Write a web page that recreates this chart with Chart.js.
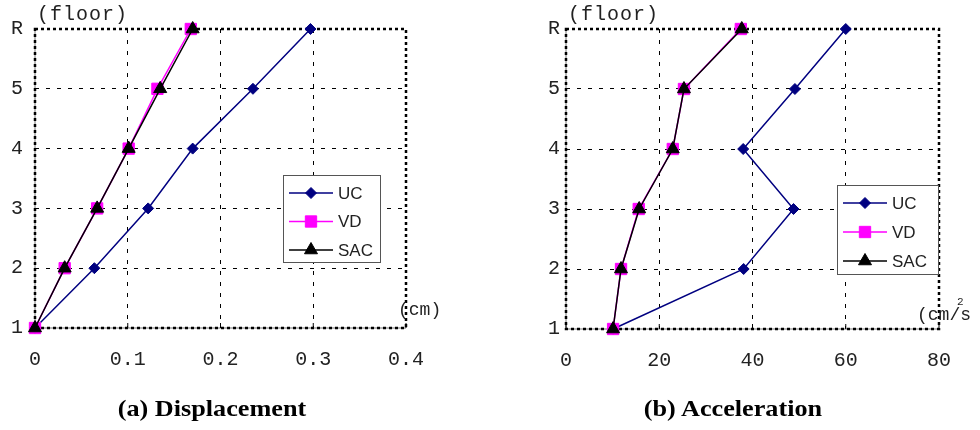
<!DOCTYPE html>
<html>
<head>
<meta charset="utf-8">
<script src="https://cdn.jsdelivr.net/npm/chart.js@4.4.0/dist/chart.umd.min.js"></script>
<style>
  html, body { margin: 0; padding: 0; background: #fff; }
  #wrap { position: relative; width: 980px; height: 430px; overflow: hidden; }
  .box { position: absolute; top: 0; width: 490px; height: 430px; }
  .cap { position: absolute; top: 396px; transform: translateX(-50%) scaleX(1.14); white-space: nowrap;
         font: bold 23px "Liberation Serif", "Times New Roman", serif; color: #000; line-height: normal; }
</style>
</head>
<body>
<div id="wrap">
  <div class="box" style="left:0"><canvas id="dispChart" width="490" height="430"></canvas></div>
  <div class="box" style="left:490px"><canvas id="accChart" width="490" height="430"></canvas></div>
  <div class="cap" style="left:212px">(a) Displacement</div>
  <div class="cap" style="left:733px">(b) Acceleration</div>
</div>
<script>
// floors (y) and series values (x)
const floors = [1, 2, 3, 4, 5, 6];
const floorLabels = ['1', '2', '3', '4', '5', 'R'];
const seriesNames = ['UC', 'VD', 'SAC'];

const dispUC  = [0, 0.064, 0.122, 0.170, 0.235, 0.297];
const dispVD  = [0, 0.032, 0.067, 0.101, 0.132, 0.168];
const dispSAC = [0, 0.032, 0.067, 0.101, 0.135, 0.170];
const dispTicks = [0, 0.1, 0.2, 0.3, 0.4];
const dispTickLabels = ['0', '0.1', '0.2', '0.3', '0.4'];

const accUC  = [10.1, 38.1, 48.8, 38.0, 49.1, 60.0];
const accVD  = [10.1, 11.8, 15.6, 22.9, 25.3, 37.5];
const accSAC = [10.1, 11.8, 15.7, 22.9, 25.3, 37.7];
const accTicks = [0, 20, 40, 60, 80];
const accTickLabels = ['0', '20', '40', '60', '80'];

// styles
const seriesColors = ['#000080', '#ff00ff', '#000000'];
const seriesMarkers = ['rectRot', 'rect', 'triangle'];
const markerSizes = [5.5, 8, 7.5];
const mono = '"Liberation Mono", "Courier New", monospace';

function makeSets(uc, vd, sac) {
  const vals = [uc, vd, sac];
  return seriesNames.map((name, i) => ({
    label: name,
    data: vals[i].map((v, k) => ({ x: v, y: floors[k] })),
    borderColor: seriesColors[i],
    backgroundColor: seriesColors[i],
    pointBackgroundColor: seriesColors[i],
    pointBorderColor: seriesColors[i],
    pointStyle: seriesMarkers[i],
    pointRadius: markerSizes[i],
    pointBorderWidth: 1,
    borderWidth: 1.5,
    tension: 0,
    clip: false,
    order: 2 - i
  }));
}

// dotted frame, inward ticks, legend box and unit texts
const framePlugin = {
  id: 'frame',
  beforeDatasetsDraw(chart, args, opts) {
    const { ctx, chartArea: a, scales } = chart;
    ctx.save();
    ctx.setLineDash([]);
    ctx.strokeStyle = '#777';
    ctx.lineWidth = 1;
    ctx.beginPath();
    ctx.moveTo(a.left, a.top);
    ctx.lineTo(a.left, a.bottom);
    ctx.lineTo(a.right, a.bottom);
    ctx.stroke();
    ctx.strokeStyle = '#000';
    ctx.beginPath();
    scales.x.ticks.forEach(t => {
      const px = scales.x.getPixelForValue(t.value);
      ctx.moveTo(px, a.bottom);
      ctx.lineTo(px, a.bottom - 5);
    });
    ctx.stroke();
    ctx.lineWidth = 2.5;
    ctx.setLineDash([3, 3]);
    ctx.strokeRect(a.left, a.top, a.right - a.left, a.bottom - a.top);
    ctx.restore();
  },
  afterDraw(chart, args, opts) {
    const { ctx, chartArea: a } = chart;
    ctx.save();
    // axis names
    ctx.fillStyle = '#222';
    ctx.textBaseline = 'middle';
    ctx.textAlign = 'left';
    ctx.font = '20px ' + mono;
    ctx.letterSpacing = '1px';
    ctx.fillText('(floor)', a.left + 2, 15);
    ctx.letterSpacing = '0px';
    ctx.font = '18px ' + mono;
    ctx.fillText(opts.unit, opts.unitX, opts.unitY);
    if (opts.sup) {
      ctx.font = '11px ' + mono;
      ctx.fillText(opts.sup, opts.unitX + 40, opts.unitY - 13);
    }
    // legend
    const L = opts.legend;
    ctx.fillStyle = '#fff';
    ctx.fillRect(L.x, L.y, L.w, L.h);
    ctx.strokeStyle = '#555';
    ctx.lineWidth = 1;
    ctx.strokeRect(L.x + 0.5, L.y + 0.5, L.w, L.h);
    chart.data.datasets.forEach((ds, i) => {
      const y = L.y + 18 + i * L.gap;
      ctx.strokeStyle = ds.borderColor;
      ctx.lineWidth = 1.5;
      ctx.beginPath();
      ctx.moveTo(L.x + 6, y);
      ctx.lineTo(L.x + 50, y);
      ctx.stroke();
      ctx.fillStyle = ds.pointBackgroundColor;
      ctx.strokeStyle = ds.pointBorderColor;
      ctx.lineWidth = 1;
      Chart.helpers.drawPoint(ctx, { pointStyle: ds.pointStyle, radius: ds.pointRadius, rotation: 0, borderWidth: 1 }, L.x + 28, y);
      ctx.fillStyle = '#222';
      ctx.font = '17px "Liberation Sans", Arial, sans-serif';
      ctx.textAlign = 'left';
      ctx.textBaseline = 'middle';
      ctx.fillText(ds.label, L.x + 55, y + 1);
    });
    ctx.restore();
  }
};

function makeChart(id, sets, xMax, ticks, tickLabels, yWidth, yPad, xHeight, rightPad, frameOpts) {
  const gridColor = c => (c.index === 0 || c.index === c.scale.ticks.length - 1) ? 'rgba(0,0,0,0)' : '#000';
  return new Chart(document.getElementById(id), {
    type: 'line',
    data: { datasets: sets },
    options: {
      responsive: false,
      animation: false,
      events: [],
      layout: { padding: { left: 0, right: rightPad, top: 29, bottom: 0 } },
      plugins: { legend: { display: false }, tooltip: { enabled: false }, frame: frameOpts },
      scales: {
        x: {
          type: 'linear', min: 0, max: xMax,
          afterBuildTicks: s => { s.ticks = ticks.map(v => ({ value: v })); },
          afterFit: s => { s.height = xHeight; },
          ticks: { callback: (v, i) => tickLabels[i], color: '#222', padding: 20,
                   font: { family: mono, size: 20 }, maxRotation: 0, autoSkip: false },
          grid: { color: gridColor, lineWidth: 1, drawTicks: false, borderDash: [4, 7] },
          border: { display: false, dash: [4, 7] }
        },
        y: {
          type: 'linear', min: 1, max: 6,
          afterBuildTicks: s => { s.ticks = floors.map(v => ({ value: v })); },
          afterFit: s => { s.width = yWidth; },
          ticks: { callback: (v, i) => floorLabels[i], color: '#222', padding: yPad,
                   font: { family: mono, size: 20 }, autoSkip: false },
          grid: { color: gridColor, lineWidth: 1, drawTicks: false, borderDash: [4, 7] },
          border: { display: false, dash: [4, 7] }
        }
      }
    },
    plugins: [framePlugin]
  });
}

document.addEventListener('DOMContentLoaded', function () {
  makeChart('dispChart', makeSets(dispUC, dispVD, dispSAC), 0.4, dispTicks, dispTickLabels,
    35, 12, 102, 84,
    { unit: '(cm)', unitX: 398, unitY: 310, legend: { x: 283, y: 175, w: 97, h: 87, gap: 28.5 } });
  makeChart('accChart', makeSets(accUC, accVD, accSAC), 80, accTicks, accTickLabels,
    76, 6, 101, 41,
    { unit: '(cm/s', sup: '2', unitX: 427, unitY: 315, legend: { x: 347, y: 185, w: 101, h: 89, gap: 29 } });
});
</script>
</body>
</html>
